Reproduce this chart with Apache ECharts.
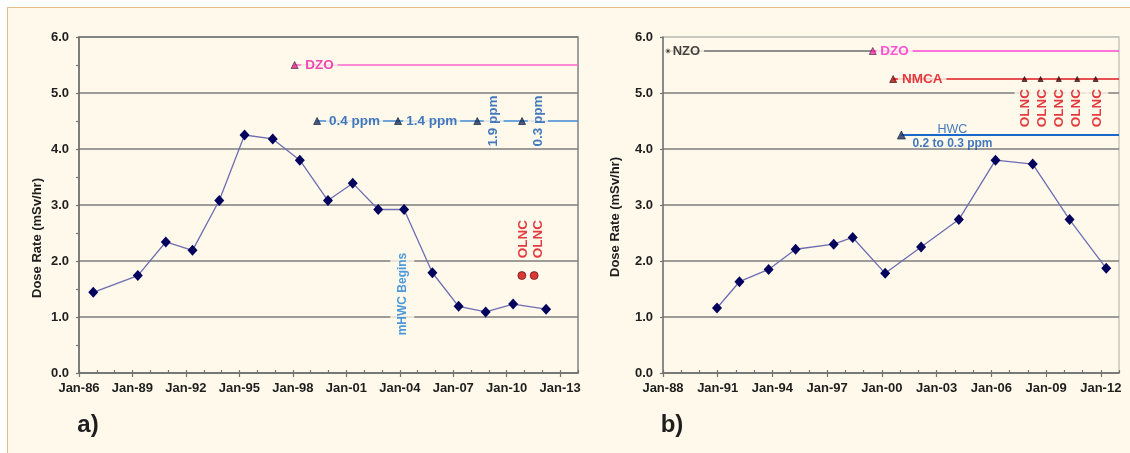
<!DOCTYPE html>
<html>
<head>
<meta charset="utf-8">
<script src="https://cdn.jsdelivr.net/npm/echarts@6/dist/echarts.min.js"></script>
<style>
  html, body { margin: 0; padding: 0; background: #ffffff; width: 1130px; height: 453px; overflow: hidden; }
  #panel { position: absolute; left: 7px; top: 7px; width: 1123px; height: 446px; background: #fef9ea;
           border-top: 1.5px solid #e2bd8e; border-left: 1.5px solid #e2bd8e; box-sizing: border-box; }
  #chart { position: absolute; left: 0; top: 0; width: 1130px; height: 453px; }
</style>
</head>
<body>
<div id="panel"></div>
<div id="chart"></div>
<script>
// ---------- (a) shutdown dose rate by outage (decimal year, mSv/hr) ----------
const aYears = [1986.80, 1989.30, 1990.87, 1992.37, 1993.87, 1995.29, 1996.87, 1998.39, 1999.97,
                2001.36, 2002.79, 2004.24, 2005.83, 2007.30, 2008.82, 2010.36, 2012.21];
const aDose  = [1.44, 1.74, 2.34, 2.19, 3.08, 4.25, 4.18, 3.80, 3.08,
                3.39, 2.92, 2.92, 1.79, 1.19, 1.09, 1.23, 1.14];
const aTickYears = [1986, 1989, 1992, 1995, 1998, 2001, 2004, 2007, 2010, 2013];
const aRange = [1986, 2014];

// depleted zinc injection start
const aDzo = [1998.10, 5.5];
const aDzoLabel = [1999.49, 5.5];
// hydrogen water chemistry steps
const aH2Level = 4.5;
const aH2Years = [1999.36, 2003.90, 2008.35, 2010.86];
const aH2Text = ['0.4 ppm', '1.4 ppm', '1.9 ppm', '0.3 ppm'];
const aH2TextX = [2001.46, 2005.79, 2009.27, 2011.75];
const aH2TextVertical = [false, false, true, true];
const aMhwc = [2004.14, 1.41];
// online noble chemistry applications
const aOlncYears = [2010.85, 2011.54];
const aOlncLevel = 1.74;
const aOlncTextX = [2010.92, 2011.77];
const aOlncTextY = 2.39;

// ---------- (b) shutdown dose rate by outage ----------
const bYears = [1990.96, 1992.19, 1993.79, 1995.27, 1997.36, 1998.40, 2000.18,
                2002.15, 2004.22, 2006.23, 2008.27, 2010.29, 2012.30];
const bDose  = [1.16, 1.63, 1.85, 2.21, 2.30, 2.42, 1.78,
                2.25, 2.74, 3.80, 3.73, 2.74, 1.87];
const bTickYears = [1988, 1991, 1994, 1997, 2000, 2003, 2006, 2009, 2012];
const bRange = [1988, 2013];

const bZincLevel = 5.75;
const bNzoYear = 1988.27, bNzoTextX = 1989.28;
const bDzoYear = 1999.50, bDzoTextX = 2000.69;
const bNmca = [2000.62, 5.25];
const bNmcaTextX = 2002.21;
const bOlncYears = [2007.82, 2008.70, 2009.70, 2010.71, 2011.72];
const bOlncTextX = [2007.87, 2008.79, 2009.70, 2010.67, 2011.81];
const bOlncTextY = 4.73;
const bHwc = [2001.07, 4.25];
const bHwcTextX = 2003.87;
const bHwcTextY = [4.355, 4.10];

// ---------- shared styling ----------
const FONT = '"Liberation Sans", Arial, sans-serif';
const CREAM = '#fef9ea';
const GRID_GRAY = '#7d7d7d';
const AXIS_GRAY = '#727272';
const NAVY = '#03035e';
const TREND = '#6d6db3';
const MAGENTA = '#ee1aa4';
const RED = '#dc0a14';
const BLUE = '#1558b0';

function yearLabel(v) {
  return 'Jan-' + String(Math.round(v) % 100).padStart(2, '0');
}

function tag(name, x, y, style) {
  return { name: name, value: [x, y], label: style };
}

function textSeries(xi, yi, items) {
  return {
    type: 'scatter', xAxisIndex: xi, yAxisIndex: yi, z: 3, silent: true,
    symbol: 'circle', symbolSize: 1, itemStyle: { color: 'rgba(0,0,0,0)' },
    label: { show: true, position: 'inside', formatter: '{b}', fontFamily: FONT },
    data: items
  };
}

function levelLine(xi, yi, x0, x1, y, color, width) {
  return {
    type: 'line', xAxisIndex: xi, yAxisIndex: yi, z: 2, silent: true,
    symbol: 'none', lineStyle: { color: color, width: width },
    data: [[x0, y], [x1, y]]
  };
}

function markerSeries(xi, yi, pts, symbol, size, fill, border) {
  return {
    type: 'scatter', xAxisIndex: xi, yAxisIndex: yi, z: 4, silent: true,
    symbol: symbol, symbolSize: size,
    itemStyle: { color: fill, borderColor: border, borderWidth: 0.8 },
    data: pts
  };
}

function xAxes(gridIndex, range, ticks) {
  return [
    {
      type: 'value', gridIndex: gridIndex, min: range[0], max: range[1], interval: 1,
      axisLine: { lineStyle: { color: AXIS_GRAY, width: 1.5 } },
      axisTick: { inside: true, length: 3, lineStyle: { color: AXIS_GRAY, width: 1.2 } },
      axisLabel: {
        customValues: ticks, formatter: yearLabel, margin: 9,
        color: '#1e1e1e', fontSize: 13, fontWeight: 'bold', fontFamily: FONT
      },
      splitLine: { show: false }
    },
    {
      type: 'value', gridIndex: gridIndex, min: range[0], max: range[1], position: 'bottom',
      axisLine: { show: false },
      axisTick: { customValues: ticks, inside: false, length: 4, lineStyle: { color: AXIS_GRAY, width: 1.2 } },
      axisLabel: { show: false },
      splitLine: { show: false }
    }
  ];
}

function yAxis(gridIndex, minor, topColor) {
  const colors = [GRID_GRAY, GRID_GRAY, GRID_GRAY, GRID_GRAY, GRID_GRAY, GRID_GRAY, topColor];
  return {
    type: 'value', gridIndex: gridIndex, min: 0, max: 6, interval: 1,
    axisLine: { show: true, lineStyle: { color: AXIS_GRAY, width: 1.5 } },
    axisTick: { show: true, inside: false, length: 3, lineStyle: { color: AXIS_GRAY, width: 1.2 } },
    minorTick: { show: minor, splitNumber: 2, length: 3, lineStyle: { color: AXIS_GRAY, width: 1.2 } },
    axisLabel: {
      formatter: v => v.toFixed(1), margin: 10,
      color: '#1e1e1e', fontSize: 13, fontWeight: 'bold', fontFamily: FONT
    },
    splitLine: { show: true, lineStyle: { color: colors, width: 1.5 } }
  };
}

const labelBold = (color, size) => ({ color: color, fontSize: size, fontWeight: 'bold', fontFamily: FONT });

// ---------- chart (a) series ----------
const seriesA = [];
seriesA.push({
  type: 'line', xAxisIndex: 0, yAxisIndex: 0, z: 5,
  symbol: 'diamond', symbolSize: [10, 11],
  itemStyle: { color: NAVY }, lineStyle: { color: TREND, width: 1.3 },
  data: aYears.map((x, i) => [x, aDose[i]])
});
seriesA.push(levelLine(0, 0, aDzo[0], aRange[1], aDzo[1], '#ff66cc', 1.5));
seriesA.push(levelLine(0, 0, aH2Years[0], aRange[1], aH2Level, '#3f88d2', 1.3));
seriesA.push(textSeries(0, 0, [
  tag('DZO', aDzoLabel[0], aDzoLabel[1], Object.assign(labelBold(MAGENTA, 13.5), { backgroundColor: CREAM, padding: [1, 4] })),
  ...aH2Text.map((t, i) => tag(t, aH2TextX[i], aH2Level,
    Object.assign(labelBold(BLUE, 13.5), aH2TextVertical[i]
      ? { rotate: 90, backgroundColor: CREAM, padding: [3, 1, 3, 1] }
      : { backgroundColor: CREAM, padding: [1, 3] }))),
  tag('mHWC Begins', aMhwc[0], aMhwc[1],
    Object.assign(labelBold('#1e7fd6', 12), { rotate: 90, backgroundColor: CREAM, padding: [6, 2, 6, 2] })),
  ...aOlncTextX.map(x => tag('OLNC', x, aOlncTextY, Object.assign(labelBold(RED, 13.5), { rotate: 90 })))
]));
seriesA.push(markerSeries(0, 0, [aDzo], 'triangle', 7, '#e0208f', '#402030'));
seriesA.push(markerSeries(0, 0, aH2Years.map(x => [x, aH2Level]), 'triangle', 7, '#1a3266', '#0c1428'));
seriesA.push(markerSeries(0, 0, aOlncYears.map(x => [x, aOlncLevel]), 'circle', 8, '#d40808', '#4a0808'));

// ---------- chart (b) series ----------
const seriesB = [];
seriesB.push({
  type: 'line', xAxisIndex: 2, yAxisIndex: 1, z: 5,
  symbol: 'diamond', symbolSize: [10, 11],
  itemStyle: { color: NAVY }, lineStyle: { color: TREND, width: 1.3 },
  data: bYears.map((x, i) => [x, bDose[i]])
});
seriesB.push(levelLine(2, 1, bNzoYear, bDzoYear, bZincLevel, '#6a6a6a', 1.4));
seriesB.push(levelLine(2, 1, bDzoYear, bRange[1], bZincLevel, '#ff44d4', 1.6));
seriesB.push(levelLine(2, 1, bNmca[0], bRange[1], bNmca[1], '#e01822', 1.4));
seriesB.push(levelLine(2, 1, bHwc[0], bRange[1], bHwc[1], '#1a68cc', 2));
seriesB.push(textSeries(2, 1, [
  tag('NZO', bNzoTextX, bZincLevel, Object.assign(labelBold('#141414', 13), { backgroundColor: CREAM, padding: [1, 4] })),
  tag('DZO', bDzoTextX, bZincLevel, Object.assign(labelBold('#fb2ccc', 13.5), { backgroundColor: CREAM, padding: [1, 4] })),
  tag('NMCA', bNmcaTextX, bNmca[1], Object.assign(labelBold(RED, 13.5), { backgroundColor: CREAM, padding: [1, 4] })),
  ...bOlncTextX.map(x => tag('OLNC', x, bOlncTextY,
    Object.assign(labelBold(RED, 13.5), { rotate: 90, backgroundColor: CREAM, padding: [4, 1, 4, 1] }))),
  tag('HWC', bHwcTextX, bHwcTextY[0], { color: BLUE, fontSize: 12.5, fontFamily: FONT }),
  tag('0.2 to 0.3 ppm', bHwcTextX, bHwcTextY[1], labelBold(BLUE, 12))
]));
seriesB.push(markerSeries(2, 1, [[bNzoYear, bZincLevel]], 'path://M5,0L5,10M0,5L10,5M1.5,1.5L8.5,8.5M8.5,1.5L1.5,8.5', 5, 'none', '#222'));
seriesB.push(markerSeries(2, 1, [[bDzoYear, bZincLevel]], 'triangle', 7, '#f02aa8', '#4a1a3a'));
seriesB.push(markerSeries(2, 1, [bNmca], 'triangle', 7, '#a80c0c', '#3a0606'));
seriesB.push(markerSeries(2, 1, bOlncYears.map(x => [x, bNmca[1]]), 'triangle', 5, '#500808', '#2a0404'));
seriesB.push(markerSeries(2, 1, [bHwc], 'triangle', 8, '#1a3266', '#0c1428'));

const chart = echarts.init(document.getElementById('chart'), null, { renderer: 'canvas' });
chart.setOption({
  animation: false,
  backgroundColor: 'transparent',
  grid: [
    { left: 79, right: 552, top: 37, bottom: 80, show: true, borderColor: '#7a7a7a', borderWidth: 1.4, backgroundColor: 'transparent' },
    { left: 663, right: 11, top: 37, bottom: 80, show: true, borderColor: '#c4c4bc', borderWidth: 1.4, backgroundColor: 'transparent' }
  ],
  xAxis: [...xAxes(0, aRange, aTickYears), ...xAxes(1, bRange, bTickYears)],
  yAxis: [yAxis(0, true, GRID_GRAY), yAxis(1, false, '#c4c4bc')],
  series: [...seriesA, ...seriesB],
  graphic: [
    { type: 'text', x: 37, y: 238, rotation: Math.PI / 2,
      style: { text: 'Dose Rate (mSv/hr)', align: 'center', verticalAlign: 'middle', fill: '#1e1e1e', font: 'bold 13px ' + FONT } },
    { type: 'text', x: 615, y: 217, rotation: Math.PI / 2,
      style: { text: 'Dose Rate (mSv/hr)', align: 'center', verticalAlign: 'middle', fill: '#1e1e1e', font: 'bold 13px ' + FONT } },
    { type: 'text', x: 88, y: 425,
      style: { text: 'a)', align: 'center', verticalAlign: 'middle', fill: '#1e1e1e', font: 'bold 24px ' + FONT } },
    { type: 'text', x: 672, y: 425,
      style: { text: 'b)', align: 'center', verticalAlign: 'middle', fill: '#1e1e1e', font: 'bold 24px ' + FONT } }
  ]
});
</script>
</body>
</html>
